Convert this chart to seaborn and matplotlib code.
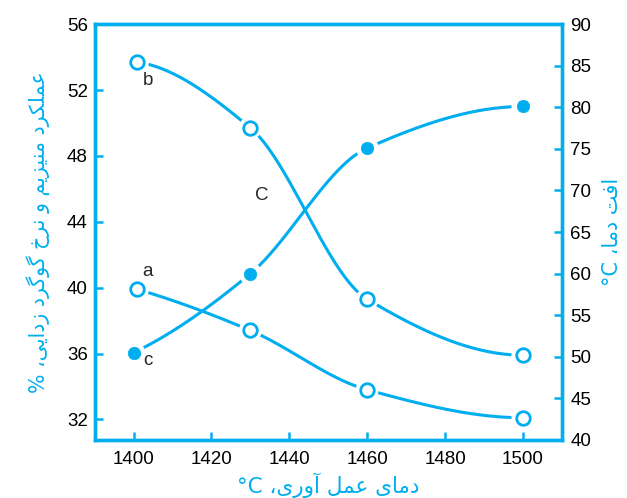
import numpy as np
import matplotlib
matplotlib.use("Agg")
import matplotlib.pyplot as plt
import seaborn as sns

# values
temp_a = [1401, 1430, 1460, 1500]
curve_a = [39.9, 37.4, 33.8, 32.1]          # left axis, open circles
temp_b = [1401, 1430, 1460, 1500]
curve_b = [53.7, 49.7, 39.3, 35.9]          # left axis, open circles
temp_c = [1400, 1430, 1460, 1500]
curve_c = [50.5, 60.0, 75.1, 80.1]          # right axis, filled dots

xticks = [1400, 1420, 1440, 1460, 1480, 1500]
left_ticks = [32, 36, 40, 44, 48, 52, 56]
right_ticks = [40, 45, 50, 55, 60, 65, 70, 75, 80, 85, 90]

BLUE = "#00AEEF"

# --- tiny Persian shaper (matplotlib does no Arabic shaping) ---
FORMS = {  # isolated, final, initial, medial
    "ا": ("\uFE8D", "\uFE8E", None, None),
    "آ": ("\uFE81", "\uFE82", None, None),
    "د": ("\uFEA9", "\uFEAA", None, None),
    "ر": ("\uFEAD", "\uFEAE", None, None),
    "ز": ("\uFEAF", "\uFEB0", None, None),
    "و": ("\uFEED", "\uFEEE", None, None),
    "ع": ("\uFEC9", "\uFECA", "\uFECB", "\uFECC"),
    "م": ("\uFEE1", "\uFEE2", "\uFEE3", "\uFEE4"),
    "ل": ("\uFEDD", "\uFEDE", "\uFEDF", "\uFEE0"),
    "ن": ("\uFEE5", "\uFEE6", "\uFEE7", "\uFEE8"),
    "خ": ("\uFEA5", "\uFEA6", "\uFEA7", "\uFEA8"),
    "ف": ("\uFED1", "\uFED2", "\uFED3", "\uFED4"),
    "ت": ("\uFE95", "\uFE96", "\uFE97", "\uFE98"),
    "ک": ("\uFB8E", "\uFB8F", "\uFB90", "\uFB91"),
    "گ": ("\uFB92", "\uFB93", "\uFB94", "\uFB95"),
    "ی": ("\uFBFC", "\uFBFD", "\uFBFE", "\uFBFF"),
}


def fa(text):
    out = []
    for i, ch in enumerate(text):
        if ch not in FORMS:
            out.append(ch)
            continue
        prev = text[i - 1] if i > 0 else ""
        nxt = text[i + 1] if i + 1 < len(text) else ""
        jp = prev in FORMS and FORMS[prev][2] is not None
        jn = FORMS[ch][2] is not None and nxt in FORMS
        f = FORMS[ch]
        if jp and jn:
            out.append(f[3])
        elif jp:
            out.append(f[1])
        elif jn:
            out.append(f[2])
        else:
            out.append(f[0])
    return "".join(reversed(out))


def pchip(x, y, n=200):
    x = np.asarray(x, float)
    y = np.asarray(y, float)
    h = np.diff(x)
    d = np.diff(y) / h
    m = np.zeros_like(y)
    for k in range(1, len(x) - 1):
        if d[k - 1] * d[k] > 0:
            w1 = 2 * h[k] + h[k - 1]
            w2 = h[k] + 2 * h[k - 1]
            m[k] = (w1 + w2) / (w1 / d[k - 1] + w2 / d[k])

    def end(h0, h1, d0, d1):
        s = ((2 * h0 + h1) * d0 - h0 * d1) / (h0 + h1)
        if np.sign(s) != np.sign(d0):
            s = 0.0
        elif np.sign(d0) != np.sign(d1) and abs(s) > abs(3 * d0):
            s = 3 * d0
        return s
    m[0] = end(h[0], h[1], d[0], d[1])
    m[-1] = end(h[-1], h[-2], d[-1], d[-2])
    xs = np.linspace(x[0], x[-1], n)
    idx = np.clip(np.searchsorted(x, xs) - 1, 0, len(h) - 1)
    t = (xs - x[idx]) / h[idx]
    h00 = 2 * t**3 - 3 * t**2 + 1
    h10 = t**3 - 2 * t**2 + t
    h01 = -2 * t**3 + 3 * t**2
    h11 = t**3 - t**2
    ys = (h00 * y[idx] + h10 * h[idx] * m[idx] + h01 * y[idx + 1]
          + h11 * h[idx] * m[idx + 1])
    return xs, ys


sns.set_style("ticks")
plt.rcParams["font.family"] = ["Liberation Sans", "DejaVu Sans"]
plt.rcParams["font.size"] = 13.5

fig = plt.figure(figsize=(6.27, 4.98), dpi=100)
ax = fig.add_axes([0.151, 0.1165, 0.745, 0.835])
ax2 = ax.twinx()

LW = 2.2


def draw(axis, xv, yv, filled):
    xs, ys = pchip(xv, yv)
    sns.lineplot(x=xs, y=ys, ax=axis, color=BLUE, lw=LW, zorder=2,
                 estimator=None, sort=False)
    sns.scatterplot(x=xv, y=yv, ax=axis, s=270, color="white",
                    edgecolor="none", zorder=3)
    if filled:
        sns.scatterplot(x=xv, y=yv, ax=axis, s=80, color=BLUE,
                        edgecolor=BLUE, linewidth=0.5, zorder=4)
    else:
        sns.scatterplot(x=xv, y=yv, ax=axis, s=95, color="white",
                        edgecolor=BLUE, linewidth=2.0, zorder=4)


draw(ax, temp_a, curve_a, False)
draw(ax, temp_b, curve_b, False)
draw(ax2, temp_c, curve_c, True)

ax.set_xlim(1390, 1510)
ax.set_ylim(30.75, 56)
ax2.set_ylim(40, 90)
ax.set_xticks(xticks)
ax.set_yticks(left_ticks)
ax2.set_yticks(right_ticks)

for a in (ax, ax2):
    for sp in a.spines.values():
        sp.set_color(BLUE)
        sp.set_linewidth(2.4)
        sp.set_visible(True)
    a.set_facecolor("none")
ax.set_zorder(ax2.get_zorder() + 1)
ax.patch.set_visible(False)

ax.tick_params(axis="both", direction="in", length=6, width=1.8,
               color=BLUE, labelcolor="black", labelsize=13.5)
ax.tick_params(axis="x", pad=8)
ax.tick_params(axis="y", pad=5)
ax2.tick_params(axis="y", direction="in", length=6, width=1.8,
                color=BLUE, labelcolor="black", labelsize=13.5, pad=6)

ax.text(1403.8, 52.6, "b", fontsize=13.5, ha="center", va="center")
ax.text(1403.6, 41.0, "a", fontsize=13.5, ha="center", va="center")
ax.text(1403.6, 35.6, "c", fontsize=13.5, ha="center", va="center")
ax.text(1433, 45.6, "C", fontsize=13.5, ha="center", va="center")

ax.set_xlabel("°C " + fa("دمای عمل آوری،"), color=BLUE, fontsize=15.5,
              labelpad=3, family=["DejaVu Sans"])
ax.set_ylabel("% " + fa("عملکرد منیزیم و نرخ گوگرد زدایی،"), color=BLUE,
              fontsize=14.8, labelpad=12, family=["DejaVu Sans"])
ax2.set_ylabel("°C " + fa("افت دما،"), color=BLUE, fontsize=15,
               labelpad=8, family=["DejaVu Sans"])

fig.savefig("out.png", dpi=100)
